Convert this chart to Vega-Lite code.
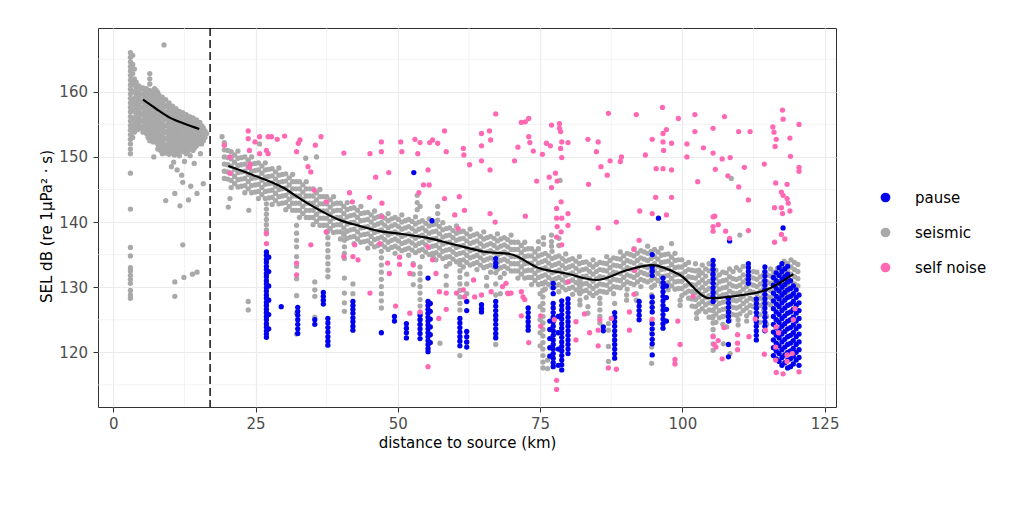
{
  "$schema": "https://vega.github.io/schema/vega-lite/v6.json",
  "width": 738,
  "height": 379,
  "autosize": {"type": "none"},
  "padding": {"left": 98, "top": 28, "right": 188, "bottom": 105},
  "background": "white",
  "config": {"font": "DejaVu Sans", "view": {"stroke": "#333333", "strokeWidth": 1}},
  "datasets": {
    "minorx": [{"d":12.5},{"d":37.5},{"d":62.5},{"d":87.5},{"d":112.5}],
    "minory": [{"s":115},{"s":125},{"s":135},{"s":145},{"s":155},{"s":165}],
    "seismic": [
      {"d":3,"s":166},{"d":3,"s":165.3},{"d":3,"s":164.6},{"d":3,"s":163.9},{"d":3,"s":163.2},{"d":3,"s":162.5},{"d":3,"s":161.8},{"d":3,"s":161.1},{"d":3,"s":160.4},{"d":3,"s":159.7},{"d":3,"s":159},{"d":3,"s":158.3},{"d":3,"s":157.6},{"d":3,"s":156.9},{"d":3,"s":156.2},{"d":3,"s":155.5},{"d":3,"s":154.8},{"d":3,"s":154.1},{"d":3,"s":153.4},{"d":3,"s":152.7},{"d":3,"s":152},{"d":3,"s":151.2},{"d":3,"s":150.5},{"d":3,"s":147.5},{"d":3,"s":142},{"d":3,"s":136.1},{"d":3,"s":134.8},{"d":3,"s":133},{"d":3,"s":132.5},{"d":3,"s":131.8},{"d":3,"s":131.2},{"d":3,"s":130.6},{"d":3,"s":129.5},{"d":3,"s":128.8},{"d":3,"s":128.3},
      {"d":3.4,"s":165.6},{"d":3.4,"s":164.2},{"d":3.4,"s":162.8},{"d":3.4,"s":161.4},{"d":3.4,"s":160},{"d":3.4,"s":158.6},{"d":3.4,"s":157.2},{"d":3.4,"s":155.8},{"d":3.4,"s":154.4},{"d":3.4,"s":153},
      {"d":3.7,"s":163.5},{"d":3.7,"s":162},{"d":3.7,"s":161},{"d":3.7,"s":160},{"d":3.7,"s":159},{"d":3.7,"s":158},{"d":3.7,"s":157},{"d":3.7,"s":156},{"d":3.7,"s":155},{"d":3.7,"s":153.8},
      {"d":4,"s":161.5},{"d":4,"s":160.5},{"d":4,"s":159.5},{"d":4,"s":158.5},{"d":4,"s":157.5},{"d":4,"s":156.5},{"d":4,"s":155.5},{"d":4,"s":154.6},
      {"d":4.3,"s":161},{"d":4.3,"s":160},{"d":4.3,"s":159},{"d":4.3,"s":158},{"d":4.3,"s":157},{"d":4.3,"s":156},{"d":4.3,"s":155.2},{"d":4.3,"s":154.2},
      {"d":4.6,"s":160.8},{"d":4.6,"s":159.8},{"d":4.6,"s":158.8},{"d":4.6,"s":157.8},{"d":4.6,"s":156.8},{"d":4.6,"s":155.8},{"d":4.6,"s":154.8},
      {"d":4.9,"s":160.5},{"d":4.9,"s":159.5},{"d":4.9,"s":158.5},{"d":4.9,"s":157.5},{"d":4.9,"s":156.5},{"d":4.9,"s":155.5},{"d":4.9,"s":154.4},
      {"d":5.2,"s":160.6},{"d":5.2,"s":159.6},{"d":5.2,"s":158.6},{"d":5.2,"s":157.6},{"d":5.2,"s":156.6},{"d":5.2,"s":155.6},{"d":5.2,"s":154.6},{"d":5.2,"s":153.8},
      {"d":5.5,"s":160.2},{"d":5.5,"s":159.2},{"d":5.5,"s":158.2},{"d":5.5,"s":157.2},{"d":5.5,"s":156.2},{"d":5.5,"s":155.2},{"d":5.5,"s":154.2},
      {"d":5.8,"s":160.5},{"d":5.8,"s":159.5},{"d":5.8,"s":158.5},{"d":5.8,"s":157.5},{"d":5.8,"s":156.5},{"d":5.8,"s":155.5},{"d":5.8,"s":154.5},{"d":5.8,"s":153.6},
      {"d":6.1,"s":160},{"d":6.1,"s":159},{"d":6.1,"s":158},{"d":6.1,"s":157},{"d":6.1,"s":156},{"d":6.1,"s":155},{"d":6.1,"s":154},{"d":6.1,"s":153},
      {"d":6.4,"s":162.8},{"d":6.4,"s":162},{"d":6.4,"s":161.2},{"d":6.4,"s":160.2},{"d":6.4,"s":159.2},{"d":6.4,"s":158.2},{"d":6.4,"s":157.2},{"d":6.4,"s":156.2},{"d":6.4,"s":155.2},{"d":6.4,"s":154.2},{"d":6.4,"s":153.2},{"d":6.4,"s":152.5},
      {"d":6.7,"s":159.7},{"d":6.7,"s":158.7},{"d":6.7,"s":157.7},{"d":6.7,"s":156.7},{"d":6.7,"s":155.7},{"d":6.7,"s":154.7},{"d":6.7,"s":153.7},{"d":6.7,"s":152.8},
      {"d":7,"s":160},{"d":7,"s":159},{"d":7,"s":158},{"d":7,"s":157},{"d":7,"s":156},{"d":7,"s":155},{"d":7,"s":154.2},{"d":7,"s":153.2},{"d":7,"s":152.3},
      {"d":7.25,"s":160.5},{"d":7.25,"s":159.5},{"d":7.25,"s":158.5},{"d":7.25,"s":157.5},{"d":7.25,"s":156.5},{"d":7.25,"s":155.5},{"d":7.25,"s":154.6},{"d":7.25,"s":153.6},{"d":7.25,"s":152.7},
      {"d":7.5,"s":160.2},{"d":7.5,"s":159.3},{"d":7.5,"s":158.3},{"d":7.5,"s":157.3},{"d":7.5,"s":156.3},{"d":7.5,"s":155.3},{"d":7.5,"s":154.3},{"d":7.5,"s":153.3},{"d":7.5,"s":152.3},
      {"d":7.8,"s":159.9},{"d":7.8,"s":158.9},{"d":7.8,"s":157.9},{"d":7.8,"s":156.9},{"d":7.8,"s":155.9},{"d":7.8,"s":154.9},{"d":7.8,"s":154},{"d":7.8,"s":153},{"d":7.8,"s":152},{"d":7.8,"s":151.2},
      {"d":8,"s":159.5},{"d":8,"s":158.5},{"d":8,"s":157.5},{"d":8,"s":156.5},{"d":8,"s":155.5},{"d":8,"s":154.5},{"d":8,"s":153.5},{"d":8,"s":152.5},{"d":8,"s":151.6},
      {"d":8.3,"s":159},{"d":8.3,"s":158},{"d":8.3,"s":157},{"d":8.3,"s":156},{"d":8.3,"s":155},{"d":8.3,"s":154},{"d":8.3,"s":153},{"d":8.3,"s":152},{"d":8.3,"s":151},
      {"d":8.6,"s":159.2},{"d":8.6,"s":158.2},{"d":8.6,"s":157.2},{"d":8.6,"s":156.2},{"d":8.6,"s":155.2},{"d":8.6,"s":154.2},{"d":8.6,"s":153.2},{"d":8.6,"s":152.2},{"d":8.6,"s":151.3},{"d":8.6,"s":150.5},
      {"d":8.9,"s":158.7},{"d":8.9,"s":157.7},{"d":8.9,"s":156.7},{"d":8.9,"s":155.7},{"d":8.9,"s":154.7},{"d":8.9,"s":153.7},{"d":8.9,"s":152.7},{"d":8.9,"s":151.8},{"d":8.9,"s":150.9},
      {"d":9.2,"s":158.8},{"d":9.2,"s":157.8},{"d":9.2,"s":156.8},{"d":9.2,"s":155.8},{"d":9.2,"s":154.8},{"d":9.2,"s":153.8},{"d":9.2,"s":152.8},{"d":9.2,"s":151.5},{"d":9.2,"s":150.6},
      {"d":9.5,"s":158},{"d":9.5,"s":157},{"d":9.5,"s":156},{"d":9.5,"s":155},{"d":9.5,"s":154},{"d":9.5,"s":153},{"d":9.5,"s":152},{"d":9.5,"s":151},
      {"d":9.8,"s":158.3},{"d":9.8,"s":157.3},{"d":9.8,"s":156.3},{"d":9.8,"s":155.3},{"d":9.8,"s":154.3},{"d":9.8,"s":153.3},{"d":9.8,"s":152.3},{"d":9.8,"s":151.2},{"d":9.8,"s":150.4},
      {"d":10.1,"s":157.6},{"d":10.1,"s":156.6},{"d":10.1,"s":155.6},{"d":10.1,"s":154.6},{"d":10.1,"s":153.6},{"d":10.1,"s":152.6},{"d":10.1,"s":151.6},{"d":10.1,"s":150.6},
      {"d":10.4,"s":157.8},{"d":10.4,"s":156.8},{"d":10.4,"s":155.8},{"d":10.4,"s":154.8},{"d":10.4,"s":153.8},{"d":10.4,"s":152.8},{"d":10.4,"s":151.8},{"d":10.4,"s":150.8},
      {"d":10.7,"s":157.1},{"d":10.7,"s":156.1},{"d":10.7,"s":155.1},{"d":10.7,"s":154.1},{"d":10.7,"s":153.1},{"d":10.7,"s":152.1},{"d":10.7,"s":151.1},{"d":10.7,"s":150.3},
      {"d":11,"s":157.4},{"d":11,"s":156.4},{"d":11,"s":155.4},{"d":11,"s":154.4},{"d":11,"s":153.4},{"d":11,"s":152.4},{"d":11,"s":151.4},{"d":11,"s":150.5},
      {"d":11.3,"s":156.7},{"d":11.3,"s":155.7},{"d":11.3,"s":154.7},{"d":11.3,"s":153.7},{"d":11.3,"s":152.7},{"d":11.3,"s":151.7},{"d":11.3,"s":150.8},
      {"d":11.6,"s":157},{"d":11.6,"s":156},{"d":11.6,"s":155},{"d":11.6,"s":154},{"d":11.6,"s":153},{"d":11.6,"s":152},{"d":11.6,"s":151},{"d":11.6,"s":150.2},
      {"d":11.9,"s":156.4},{"d":11.9,"s":155.4},{"d":11.9,"s":154.4},{"d":11.9,"s":153.4},{"d":11.9,"s":152.4},{"d":11.9,"s":151.4},
      {"d":12.2,"s":156.8},{"d":12.2,"s":155.8},{"d":12.2,"s":154.8},{"d":12.2,"s":153.8},{"d":12.2,"s":152.8},{"d":12.2,"s":151.8},{"d":12.2,"s":150.8},
      {"d":12.5,"s":156},{"d":12.5,"s":155},{"d":12.5,"s":154},{"d":12.5,"s":153},{"d":12.5,"s":152},{"d":12.5,"s":151},
      {"d":12.8,"s":156.5},{"d":12.8,"s":155.5},{"d":12.8,"s":154.5},{"d":12.8,"s":153.5},{"d":12.8,"s":152.5},{"d":12.8,"s":151.5},{"d":12.8,"s":150.5},
      {"d":13.1,"s":155.8},{"d":13.1,"s":154.8},{"d":13.1,"s":153.8},{"d":13.1,"s":152.8},{"d":13.1,"s":151.8},{"d":13.1,"s":150.9},
      {"d":13.4,"s":156.2},{"d":13.4,"s":155.2},{"d":13.4,"s":154.2},{"d":13.4,"s":153.2},{"d":13.4,"s":152.2},{"d":13.4,"s":151.2},
      {"d":13.7,"s":155.6},{"d":13.7,"s":154.6},{"d":13.7,"s":153.6},{"d":13.7,"s":152.6},{"d":13.7,"s":151.6},
      {"d":14,"s":156},{"d":14,"s":155},{"d":14,"s":154},{"d":14,"s":153},{"d":14,"s":152},{"d":14,"s":151},
      {"d":14.3,"s":155.3},{"d":14.3,"s":154.3},{"d":14.3,"s":153.3},{"d":14.3,"s":152.3},{"d":14.3,"s":151.4},
      {"d":14.6,"s":155.7},{"d":14.6,"s":154.7},{"d":14.6,"s":153.7},{"d":14.6,"s":152.7},{"d":14.6,"s":151.7},
      {"d":14.9,"s":155},{"d":14.9,"s":154},{"d":14.9,"s":153},{"d":14.9,"s":152},
      {"d":15.2,"s":155.3},{"d":15.2,"s":154.3},{"d":15.2,"s":153.3},{"d":15.2,"s":152.3},
      {"d":15.5,"s":154.8},{"d":15.5,"s":153.8},{"d":15.5,"s":152.8},{"d":15.5,"s":152},
      {"d":15.8,"s":154.5},{"d":15.8,"s":153.5},{"d":15.8,"s":152.5},{"d":16.1,"s":154},{"d":16.1,"s":153},{"d":16.4,"s":153.6},
      {"d":8.9,"s":167.2},{"d":7.1,"s":150},{"d":9.2,"s":143.3},{"d":10.8,"s":144.4},{"d":11.7,"s":142.5},{"d":12.2,"s":146.1},{"d":13.2,"s":143.4},{"d":13.6,"s":145.5},{"d":14.7,"s":144.4},{"d":15.8,"s":145.9},{"d":12.2,"s":136.5},{"d":10.8,"s":130.8},{"d":10.8,"s":128.6},{"d":12.4,"s":131.5},{"d":13.9,"s":132},{"d":14.7,"s":132.3},{"d":10.2,"s":148.5},{"d":10.6,"s":149.2},{"d":11.2,"s":148},{"d":12,"s":147.2},{"d":12.5,"s":149.3},{"d":13.5,"s":150.2},{"d":14.2,"s":149},{"d":15.3,"s":150.5},
      {"d":19.5,"s":152.2},{"d":19.5,"s":151.1},{"d":19.5,"s":150},{"d":19.5,"s":148.9},{"d":19.5,"s":147.8},{"d":19.5,"s":146.7},
      {"d":20.7,"s":150.8},{"d":20.7,"s":149.7},{"d":20.7,"s":148.6},{"d":20.7,"s":147.5},{"d":20.7,"s":146.4},{"d":20.7,"s":145.3},
      {"d":21.9,"s":150.9},{"d":21.9,"s":149.8},{"d":21.9,"s":148.7},{"d":21.9,"s":147.6},{"d":21.9,"s":146.5},{"d":21.9,"s":145.4},
      {"d":23.1,"s":150},{"d":23.1,"s":148.9},{"d":23.1,"s":147.8},{"d":23.1,"s":146.7},{"d":23.1,"s":145.6},{"d":23.1,"s":144.5},
      {"d":24.3,"s":150},{"d":24.3,"s":148.9},{"d":24.3,"s":147.8},{"d":24.3,"s":146.7},{"d":24.3,"s":145.6},{"d":24.3,"s":144.5},
      {"d":25.5,"s":149.1},{"d":25.5,"s":148},{"d":25.5,"s":146.9},{"d":25.5,"s":145.8},{"d":25.5,"s":144.7},{"d":25.5,"s":143.6},
      {"d":26.7,"s":149.1},{"d":26.7,"s":148},{"d":26.7,"s":146.9},{"d":26.7,"s":145.8},{"d":26.7,"s":144.7},{"d":26.7,"s":143.6},
      {"d":27.9,"s":148.2},{"d":27.9,"s":147.1},{"d":27.9,"s":146},{"d":27.9,"s":144.9},{"d":27.9,"s":143.8},{"d":27.9,"s":142.7},
      {"d":29.1,"s":148.3},{"d":29.1,"s":147.2},{"d":29.1,"s":146.1},{"d":29.1,"s":145},{"d":29.1,"s":143.9},{"d":29.1,"s":142.8},
      {"d":30.3,"s":147.4},{"d":30.3,"s":146.3},{"d":30.3,"s":145.2},{"d":30.3,"s":144.1},{"d":30.3,"s":143},{"d":30.3,"s":141.9},
      {"d":31.5,"s":147.3},{"d":31.5,"s":146.2},{"d":31.5,"s":145.1},{"d":31.5,"s":144},{"d":31.5,"s":142.9},{"d":31.5,"s":141.8},
      {"d":32.7,"s":146.2},{"d":32.7,"s":145.1},{"d":32.7,"s":144},{"d":32.7,"s":142.9},{"d":32.7,"s":141.8},{"d":32.7,"s":140.7},
      {"d":33.9,"s":146.2},{"d":33.9,"s":145.1},{"d":33.9,"s":144},{"d":33.9,"s":142.9},{"d":33.9,"s":141.8},{"d":33.9,"s":140.7},
      {"d":35.1,"s":145.1},{"d":35.1,"s":144},{"d":35.1,"s":142.9},{"d":35.1,"s":141.8},{"d":35.1,"s":140.7},{"d":35.1,"s":139.6},
      {"d":36.3,"s":145},{"d":36.3,"s":143.9},{"d":36.3,"s":142.8},{"d":36.3,"s":141.7},{"d":36.3,"s":140.6},{"d":36.3,"s":139.5},
      {"d":37.5,"s":143.9},{"d":37.5,"s":142.8},{"d":37.5,"s":141.7},{"d":37.5,"s":140.6},{"d":37.5,"s":139.5},{"d":37.5,"s":138.4},
      {"d":38.7,"s":143.9},{"d":38.7,"s":142.8},{"d":38.7,"s":141.7},{"d":38.7,"s":140.6},{"d":38.7,"s":139.5},{"d":38.7,"s":138.4},
      {"d":39.9,"s":142.9},{"d":39.9,"s":141.8},{"d":39.9,"s":140.7},{"d":39.9,"s":139.6},{"d":39.9,"s":138.5},{"d":39.9,"s":137.4},
      {"d":41.1,"s":143},{"d":41.1,"s":141.9},{"d":41.1,"s":140.8},{"d":41.1,"s":139.7},{"d":41.1,"s":138.6},{"d":41.1,"s":137.5},
      {"d":42.3,"s":142.2},{"d":42.3,"s":141.1},{"d":42.3,"s":140},{"d":42.3,"s":138.9},{"d":42.3,"s":137.8},{"d":42.3,"s":136.7},
      {"d":43.5,"s":142.4},{"d":43.5,"s":141.3},{"d":43.5,"s":140.2},{"d":43.5,"s":139.1},{"d":43.5,"s":138},{"d":43.5,"s":136.9},
      {"d":44.7,"s":141.5},{"d":44.7,"s":140.4},{"d":44.7,"s":139.3},{"d":44.7,"s":138.2},{"d":44.7,"s":137.1},{"d":44.7,"s":136},
      {"d":45.9,"s":141.7},{"d":45.9,"s":140.6},{"d":45.9,"s":139.5},{"d":45.9,"s":138.4},{"d":45.9,"s":137.3},{"d":45.9,"s":136.2},
      {"d":47.1,"s":141},{"d":47.1,"s":139.9},{"d":47.1,"s":138.8},{"d":47.1,"s":137.7},{"d":47.1,"s":136.6},{"d":47.1,"s":135.5},
      {"d":48.3,"s":141.3},{"d":48.3,"s":140.2},{"d":48.3,"s":139.1},{"d":48.3,"s":138},{"d":48.3,"s":136.9},{"d":48.3,"s":135.8},
      {"d":49.5,"s":140.7},{"d":49.5,"s":139.6},{"d":49.5,"s":138.5},{"d":49.5,"s":137.4},{"d":49.5,"s":136.3},{"d":49.5,"s":135.2},
      {"d":50.7,"s":141.1},{"d":50.7,"s":140},{"d":50.7,"s":138.9},{"d":50.7,"s":137.8},{"d":50.7,"s":136.7},{"d":50.7,"s":135.6},
      {"d":51.9,"s":140.4},{"d":51.9,"s":139.3},{"d":51.9,"s":138.2},{"d":51.9,"s":137.1},{"d":51.9,"s":136},{"d":51.9,"s":134.9},
      {"d":53.1,"s":140.8},{"d":53.1,"s":139.7},{"d":53.1,"s":138.6},{"d":53.1,"s":137.5},{"d":53.1,"s":136.4},{"d":53.1,"s":135.3},
      {"d":53.4,"s":144.1},{"d":53.4,"s":143},{"d":53.4,"s":141.9},
      {"d":54.3,"s":140.2},{"d":54.3,"s":139.1},{"d":54.3,"s":138},{"d":54.3,"s":136.9},{"d":54.3,"s":135.8},{"d":54.3,"s":134.7},
      {"d":55.5,"s":140.5},{"d":55.5,"s":139.4},{"d":55.5,"s":138.3},{"d":55.5,"s":137.2},{"d":55.5,"s":136.1},{"d":55.5,"s":135},
      {"d":56.7,"s":139.7},{"d":56.7,"s":138.6},{"d":56.7,"s":137.5},{"d":56.7,"s":136.4},{"d":56.7,"s":135.3},{"d":56.7,"s":134.2},
      {"d":57,"s":142.4},{"d":57,"s":141.3},{"d":57,"s":140.3},
      {"d":57.9,"s":139.9},{"d":57.9,"s":138.8},{"d":57.9,"s":137.7},{"d":57.9,"s":136.6},{"d":57.9,"s":135.5},{"d":57.9,"s":134.4},
      {"d":59.1,"s":139.1},{"d":59.1,"s":138},{"d":59.1,"s":136.9},{"d":59.1,"s":135.8},{"d":59.1,"s":134.7},{"d":59.1,"s":133.6},
      {"d":60.3,"s":139.4},{"d":60.3,"s":138.3},{"d":60.3,"s":137.2},{"d":60.3,"s":136.1},{"d":60.3,"s":135},{"d":60.3,"s":133.9},
      {"d":61.5,"s":138.6},{"d":61.5,"s":137.5},{"d":61.5,"s":136.4},{"d":61.5,"s":135.3},{"d":61.5,"s":134.2},{"d":61.5,"s":133.1},
      {"d":62.7,"s":138.9},{"d":62.7,"s":137.8},{"d":62.7,"s":136.7},{"d":62.7,"s":135.6},{"d":62.7,"s":134.5},{"d":62.7,"s":133.4},
      {"d":63.9,"s":138.2},{"d":63.9,"s":137.1},{"d":63.9,"s":136},{"d":63.9,"s":134.9},{"d":63.9,"s":133.8},{"d":63.9,"s":132.7},
      {"d":65.1,"s":138.5},{"d":65.1,"s":137.4},{"d":65.1,"s":136.3},{"d":65.1,"s":135.2},{"d":65.1,"s":134.1},{"d":65.1,"s":133},
      {"d":66.3,"s":137.8},{"d":66.3,"s":136.7},{"d":66.3,"s":135.6},{"d":66.3,"s":134.5},{"d":66.3,"s":133.4},{"d":66.3,"s":132.3},
      {"d":67.5,"s":138.2},{"d":67.5,"s":137.1},{"d":67.5,"s":136},{"d":67.5,"s":134.9},{"d":67.5,"s":133.8},{"d":67.5,"s":132.7},
      {"d":68.7,"s":137.6},{"d":68.7,"s":136.5},{"d":68.7,"s":135.4},{"d":68.7,"s":134.3},{"d":68.7,"s":133.2},{"d":68.7,"s":132.1},
      {"d":69.9,"s":138},{"d":69.9,"s":136.9},{"d":69.9,"s":135.8},{"d":69.9,"s":134.7},{"d":69.9,"s":133.6},{"d":69.9,"s":132.5},
      {"d":71.1,"s":136.9},{"d":71.1,"s":135.8},{"d":71.1,"s":134.7},{"d":71.1,"s":133.6},{"d":71.1,"s":132.5},{"d":71.1,"s":131.4},
      {"d":72.3,"s":136.9},{"d":72.3,"s":135.8},{"d":72.3,"s":134.7},{"d":72.3,"s":133.6},{"d":72.3,"s":132.5},{"d":72.3,"s":131.4},
      {"d":73.5,"s":135.9},{"d":73.5,"s":134.8},{"d":73.5,"s":133.7},{"d":73.5,"s":132.6},{"d":73.5,"s":131.5},{"d":73.5,"s":130.4},
      {"d":74.7,"s":137},{"d":74.7,"s":135.9},{"d":74.7,"s":134.8},{"d":74.7,"s":133.7},{"d":74.7,"s":132.6},{"d":74.7,"s":131.5},{"d":74.7,"s":130.4},
      {"d":75.6,"s":137.6},{"d":75.6,"s":136.6},
      {"d":75.9,"s":135.2},{"d":75.9,"s":134.1},{"d":75.9,"s":133},{"d":75.9,"s":131.9},{"d":75.9,"s":130.8},{"d":75.9,"s":129.7},
      {"d":77,"s":138},{"d":77,"s":137},{"d":77,"s":136.3},
      {"d":77.1,"s":135.5},{"d":77.1,"s":134.4},{"d":77.1,"s":133.3},{"d":77.1,"s":132.2},{"d":77.1,"s":131.1},{"d":77.1,"s":130},
      {"d":78.3,"s":137.5},{"d":78.3,"s":136.4},{"d":78.3,"s":134.8},{"d":78.3,"s":133.7},{"d":78.3,"s":132.6},{"d":78.3,"s":131.5},{"d":78.3,"s":130.4},{"d":78.3,"s":129.3},
      {"d":79.5,"s":135.1},{"d":79.5,"s":134},{"d":79.5,"s":132.9},{"d":79.5,"s":131.8},{"d":79.5,"s":130.7},{"d":79.5,"s":129.6},
      {"d":80.7,"s":134.4},{"d":80.7,"s":133.3},{"d":80.7,"s":132.2},{"d":80.7,"s":131.1},{"d":80.7,"s":130},{"d":80.7,"s":128.9},
      {"d":81.9,"s":134.7},{"d":81.9,"s":133.6},{"d":81.9,"s":132.5},{"d":81.9,"s":131.4},{"d":81.9,"s":130.3},{"d":81.9,"s":129.2},
      {"d":83.1,"s":133.9},{"d":83.1,"s":132.8},{"d":83.1,"s":131.7},{"d":83.1,"s":130.6},{"d":83.1,"s":129.5},{"d":83.1,"s":128.4},
      {"d":84.3,"s":134.2},{"d":84.3,"s":133.1},{"d":84.3,"s":132},{"d":84.3,"s":130.9},{"d":84.3,"s":129.8},{"d":84.3,"s":128.7},
      {"d":85.5,"s":133.8},{"d":85.5,"s":132.7},{"d":85.5,"s":131.6},{"d":85.5,"s":130.5},{"d":85.5,"s":129.4},{"d":85.5,"s":128.3},
      {"d":86.7,"s":134.7},{"d":86.7,"s":133.6},{"d":86.7,"s":132.5},{"d":86.7,"s":131.4},{"d":86.7,"s":130.3},{"d":86.7,"s":129.2},
      {"d":87.9,"s":134.5},{"d":87.9,"s":133.4},{"d":87.9,"s":132.3},{"d":87.9,"s":131.2},{"d":87.9,"s":130.1},{"d":87.9,"s":129},
      {"d":89.1,"s":135.4},{"d":89.1,"s":134.3},{"d":89.1,"s":133.2},{"d":89.1,"s":132.1},{"d":89.1,"s":131},{"d":89.1,"s":129.9},
      {"d":90.3,"s":135.2},{"d":90.3,"s":134.1},{"d":90.3,"s":133},{"d":90.3,"s":131.9},{"d":90.3,"s":130.8},{"d":90.3,"s":129.7},
      {"d":91.5,"s":135.9},{"d":91.5,"s":134.8},{"d":91.5,"s":133.7},{"d":91.5,"s":132.6},{"d":91.5,"s":131.5},{"d":91.5,"s":130.4},
      {"d":92.7,"s":135.6},{"d":92.7,"s":134.5},{"d":92.7,"s":133.4},{"d":92.7,"s":132.3},{"d":92.7,"s":131.2},{"d":92.7,"s":130.1},
      {"d":93.9,"s":136.3},{"d":93.9,"s":135.2},{"d":93.9,"s":134.1},{"d":93.9,"s":133},{"d":93.9,"s":131.9},{"d":93.9,"s":130.8},
      {"d":95.1,"s":135.8},{"d":95.1,"s":134.7},{"d":95.1,"s":133.6},{"d":95.1,"s":132.5},{"d":95.1,"s":131.4},{"d":95.1,"s":130.3},
      {"d":96.3,"s":136},{"d":96.3,"s":134.9},{"d":96.3,"s":133.8},{"d":96.3,"s":132.7},{"d":96.3,"s":131.6},{"d":96.3,"s":130.5},
      {"d":97.5,"s":135.1},{"d":97.5,"s":134},{"d":97.5,"s":132.9},{"d":97.5,"s":131.8},{"d":97.5,"s":130.7},{"d":97.5,"s":129.6},
      {"d":98.1,"s":136.7},
      {"d":98.7,"s":135.2},{"d":98.7,"s":134.1},{"d":98.7,"s":133},{"d":98.7,"s":131.9},{"d":98.7,"s":130.8},{"d":98.7,"s":129.7},
      {"d":99.9,"s":134.2},{"d":99.9,"s":133.1},{"d":99.9,"s":132},{"d":99.9,"s":130.9},{"d":99.9,"s":129.8},{"d":99.9,"s":128.7},
      {"d":101.1,"s":133.8},{"d":101.1,"s":132.7},{"d":101.1,"s":131.6},{"d":101.1,"s":130.5},{"d":101.1,"s":129.4},{"d":101.1,"s":128.3},
      {"d":102.3,"s":133.6},{"d":102.3,"s":132.5},{"d":102.3,"s":131.4},{"d":102.3,"s":130.3},{"d":102.3,"s":129.2},{"d":102.3,"s":128.1},{"d":102.3,"s":127},
      {"d":103.5,"s":133.4},{"d":103.5,"s":132.2},{"d":103.5,"s":131.1},{"d":103.5,"s":130},{"d":103.5,"s":128.9},{"d":103.5,"s":127.8},{"d":103.5,"s":126.7},
      {"d":104.7,"s":133.6},{"d":104.7,"s":132.5},{"d":104.7,"s":130.9},{"d":104.7,"s":129.8},{"d":104.7,"s":128.7},{"d":104.7,"s":127.6},{"d":104.7,"s":126.5},{"d":104.7,"s":125.4},
      {"d":105.9,"s":132.6},{"d":105.9,"s":131.4},{"d":105.9,"s":130.3},{"d":105.9,"s":129.2},{"d":105.9,"s":128.1},{"d":105.9,"s":127},{"d":105.9,"s":125.9},{"d":105.9,"s":124.6},
      {"d":107.1,"s":132.3},{"d":107.1,"s":131},{"d":107.1,"s":129.9},{"d":107.1,"s":128.8},{"d":107.1,"s":127.7},{"d":107.1,"s":126.6},{"d":107.1,"s":125.5},{"d":107.1,"s":124.3},
      {"d":108.3,"s":132.8},{"d":108.3,"s":131.6},{"d":108.3,"s":130.5},{"d":108.3,"s":129.4},{"d":108.3,"s":128.3},{"d":108.3,"s":127.2},{"d":108.3,"s":126.1},{"d":108.3,"s":124.9},
      {"d":109.5,"s":133},{"d":109.5,"s":131.2},{"d":109.5,"s":130.1},{"d":109.5,"s":129},{"d":109.5,"s":127.9},{"d":109.5,"s":126.8},{"d":109.5,"s":125.7},
      {"d":110.7,"s":133.2},{"d":110.7,"s":131.9},{"d":110.7,"s":130.8},{"d":110.7,"s":129.7},{"d":110.7,"s":128.6},{"d":110.7,"s":127.5},{"d":110.7,"s":126.4},
      {"d":111.9,"s":131.6},{"d":111.9,"s":130.5},{"d":111.9,"s":129.4},{"d":111.9,"s":128.3},{"d":111.9,"s":127.2},{"d":111.9,"s":126.1},
      {"d":113.1,"s":132.3},{"d":113.1,"s":131.2},{"d":113.1,"s":130.1},{"d":113.1,"s":129},{"d":113.1,"s":127.9},{"d":113.1,"s":126.8},
      {"d":114.3,"s":132},{"d":114.3,"s":130.9},{"d":114.3,"s":129.8},{"d":114.3,"s":128.7},{"d":114.3,"s":127.6},{"d":114.3,"s":126.5},
      {"d":115.5,"s":132.8},{"d":115.5,"s":131.7},{"d":115.5,"s":130.6},{"d":115.5,"s":129.5},{"d":115.5,"s":128.4},{"d":115.5,"s":127.3},
      {"d":116.7,"s":132.9},{"d":116.7,"s":131.8},{"d":116.7,"s":130.7},{"d":116.7,"s":129.6},{"d":116.7,"s":128.5},{"d":116.7,"s":127.4},
      {"d":117.9,"s":134},{"d":117.9,"s":132.9},{"d":117.9,"s":131.8},{"d":117.9,"s":130.7},{"d":117.9,"s":129.6},{"d":117.9,"s":128.5},
      {"d":119.1,"s":134.2},{"d":119.1,"s":133.1},{"d":119.1,"s":132},{"d":119.1,"s":130.9},{"d":119.1,"s":129.8},{"d":119.1,"s":128.7},
      {"d":120.3,"s":133.5},{"d":120.3,"s":132.4},{"d":120.3,"s":131.3},{"d":120.3,"s":130.2},
      {"d":20.1,"s":151},{"d":20.1,"s":149.9},{"d":20.1,"s":148.8},{"d":20.1,"s":147.7},{"d":20.1,"s":146.6},
      {"d":21.3,"s":150.3},{"d":21.3,"s":149.2},{"d":21.3,"s":148.1},{"d":21.3,"s":147},{"d":21.3,"s":145.9},
      {"d":22.5,"s":149.9},{"d":22.5,"s":148.8},{"d":22.5,"s":147.7},{"d":22.5,"s":146.6},{"d":22.5,"s":145.5},
      {"d":23.7,"s":149.5},{"d":23.7,"s":148.4},{"d":23.7,"s":147.3},{"d":23.7,"s":146.2},{"d":23.7,"s":145.1},
      {"d":24.9,"s":149},{"d":24.9,"s":147.9},{"d":24.9,"s":146.8},{"d":24.9,"s":145.7},{"d":24.9,"s":144.6},
      {"d":26.1,"s":148.6},{"d":26.1,"s":147.5},{"d":26.1,"s":146.4},{"d":26.1,"s":145.3},{"d":26.1,"s":144.2},
      {"d":27.3,"s":148.1},{"d":27.3,"s":147},{"d":27.3,"s":145.9},{"d":27.3,"s":144.8},{"d":27.3,"s":143.7},
      {"d":28.5,"s":147.7},{"d":28.5,"s":146.6},{"d":28.5,"s":145.5},{"d":28.5,"s":144.4},{"d":28.5,"s":143.3},
      {"d":29.7,"s":147.3},{"d":29.7,"s":146.2},{"d":29.7,"s":145.1},{"d":29.7,"s":144},{"d":29.7,"s":142.9},
      {"d":30.9,"s":146.8},{"d":30.9,"s":145.7},{"d":30.9,"s":144.6},{"d":30.9,"s":143.5},{"d":30.9,"s":142.4},
      {"d":32.1,"s":146.2},{"d":32.1,"s":145.1},{"d":32.1,"s":144},{"d":32.1,"s":142.9},{"d":32.1,"s":141.8},
      {"d":33.3,"s":145.7},{"d":33.3,"s":144.6},{"d":33.3,"s":143.5},{"d":33.3,"s":142.4},{"d":33.3,"s":141.3},
      {"d":34.5,"s":145.1},{"d":34.5,"s":144},{"d":34.5,"s":142.9},{"d":34.5,"s":141.8},{"d":34.5,"s":140.7},
      {"d":35.7,"s":144.5},{"d":35.7,"s":143.4},{"d":35.7,"s":142.3},{"d":35.7,"s":141.2},{"d":35.7,"s":140.1},
      {"d":36.9,"s":143.9},{"d":36.9,"s":142.8},{"d":36.9,"s":141.7},{"d":36.9,"s":140.6},{"d":36.9,"s":139.5},
      {"d":38.1,"s":143.4},{"d":38.1,"s":142.3},{"d":38.1,"s":141.2},{"d":38.1,"s":140.1},{"d":38.1,"s":139},
      {"d":39.3,"s":142.9},{"d":39.3,"s":141.8},{"d":39.3,"s":140.7},{"d":39.3,"s":139.6},{"d":39.3,"s":138.5},
      {"d":40.5,"s":142.4},{"d":40.5,"s":141.3},{"d":40.5,"s":140.2},{"d":40.5,"s":139.1},{"d":40.5,"s":138},
      {"d":41.7,"s":142.1},{"d":41.7,"s":141},{"d":41.7,"s":139.9},{"d":41.7,"s":138.8},{"d":41.7,"s":137.7},
      {"d":42.9,"s":141.8},{"d":42.9,"s":140.7},{"d":42.9,"s":139.6},{"d":42.9,"s":138.5},{"d":42.9,"s":137.4},
      {"d":44.1,"s":141.4},{"d":44.1,"s":140.3},{"d":44.1,"s":139.2},{"d":44.1,"s":138.1},{"d":44.1,"s":137},
      {"d":45.3,"s":141.1},{"d":45.3,"s":140},{"d":45.3,"s":138.9},{"d":45.3,"s":137.8},{"d":45.3,"s":136.7},
      {"d":46.5,"s":140.8},{"d":46.5,"s":139.7},{"d":46.5,"s":138.6},{"d":46.5,"s":137.5},{"d":46.5,"s":136.4},
      {"d":47.7,"s":140.6},{"d":47.7,"s":139.5},{"d":47.7,"s":138.4},{"d":47.7,"s":137.3},{"d":47.7,"s":136.2},
      {"d":48.9,"s":140.5},{"d":48.9,"s":139.4},{"d":48.9,"s":138.3},{"d":48.9,"s":137.2},{"d":48.9,"s":136.1},
      {"d":50.1,"s":140.4},{"d":50.1,"s":139.3},{"d":50.1,"s":138.2},{"d":50.1,"s":137.1},{"d":50.1,"s":136},
      {"d":51.3,"s":140.2},{"d":51.3,"s":139.1},{"d":51.3,"s":138},{"d":51.3,"s":136.9},{"d":51.3,"s":135.8},
      {"d":52.5,"s":140.1},{"d":52.5,"s":139},{"d":52.5,"s":137.9},{"d":52.5,"s":136.8},{"d":52.5,"s":135.7},
      {"d":53.7,"s":140},{"d":53.7,"s":138.9},{"d":53.7,"s":137.8},{"d":53.7,"s":136.7},{"d":53.7,"s":135.6},
      {"d":54.9,"s":139.8},{"d":54.9,"s":138.7},{"d":54.9,"s":137.6},{"d":54.9,"s":136.5},{"d":54.9,"s":135.4},
      {"d":56.1,"s":139.6},{"d":56.1,"s":138.5},{"d":56.1,"s":137.4},{"d":56.1,"s":136.3},{"d":56.1,"s":135.2},
      {"d":57.3,"s":139.3},{"d":57.3,"s":138.2},{"d":57.3,"s":137.1},{"d":57.3,"s":136},{"d":57.3,"s":134.9},
      {"d":58.5,"s":139},{"d":58.5,"s":137.9},{"d":58.5,"s":136.8},{"d":58.5,"s":135.7},{"d":58.5,"s":134.6},
      {"d":59.7,"s":138.7},{"d":59.7,"s":137.6},{"d":59.7,"s":136.5},{"d":59.7,"s":135.4},{"d":59.7,"s":134.3},
      {"d":60.9,"s":138.5},{"d":60.9,"s":137.4},{"d":60.9,"s":136.3},{"d":60.9,"s":135.2},{"d":60.9,"s":134.1},
      {"d":62.1,"s":138.2},{"d":62.1,"s":137.1},{"d":62.1,"s":136},{"d":62.1,"s":134.9},{"d":62.1,"s":133.8},
      {"d":63.3,"s":138},{"d":63.3,"s":136.9},{"d":63.3,"s":135.8},{"d":63.3,"s":134.7},{"d":63.3,"s":133.6},
      {"d":64.5,"s":137.8},{"d":64.5,"s":136.7},{"d":64.5,"s":135.6},{"d":64.5,"s":134.5},{"d":64.5,"s":133.4},
      {"d":65.7,"s":137.6},{"d":65.7,"s":136.5},{"d":65.7,"s":135.4},{"d":65.7,"s":134.3},{"d":65.7,"s":133.2},
      {"d":66.9,"s":137.5},{"d":66.9,"s":136.4},{"d":66.9,"s":135.3},{"d":66.9,"s":134.2},{"d":66.9,"s":133.1},
      {"d":68.1,"s":137.4},{"d":68.1,"s":136.3},{"d":68.1,"s":135.2},{"d":68.1,"s":134.1},{"d":68.1,"s":133},
      {"d":69.3,"s":137.3},{"d":69.3,"s":136.2},{"d":69.3,"s":135.1},{"d":69.3,"s":134},{"d":69.3,"s":132.9},
      {"d":70.5,"s":136.9},{"d":70.5,"s":135.8},{"d":70.5,"s":134.7},{"d":70.5,"s":133.6},{"d":70.5,"s":132.5},
      {"d":71.7,"s":136.4},{"d":71.7,"s":135.3},{"d":71.7,"s":134.2},{"d":71.7,"s":133.1},{"d":71.7,"s":132},
      {"d":72.9,"s":135.9},{"d":72.9,"s":134.8},{"d":72.9,"s":133.7},{"d":72.9,"s":132.6},{"d":72.9,"s":131.5},
      {"d":74.1,"s":135.4},{"d":74.1,"s":134.3},{"d":74.1,"s":133.2},{"d":74.1,"s":132.1},{"d":74.1,"s":131},
      {"d":75.3,"s":135},{"d":75.3,"s":133.9},{"d":75.3,"s":132.8},{"d":75.3,"s":131.7},{"d":75.3,"s":130.6},
      {"d":76.5,"s":134.8},{"d":76.5,"s":133.7},{"d":76.5,"s":132.6},{"d":76.5,"s":131.5},{"d":76.5,"s":130.4},
      {"d":77.7,"s":134.6},{"d":77.7,"s":133.5},{"d":77.7,"s":132.4},{"d":77.7,"s":131.3},{"d":77.7,"s":130.2},
      {"d":78.9,"s":134.4},{"d":78.9,"s":133.3},{"d":78.9,"s":132.2},{"d":78.9,"s":131.1},{"d":78.9,"s":130},
      {"d":80.1,"s":134.2},{"d":80.1,"s":133.1},{"d":80.1,"s":132},{"d":80.1,"s":130.9},{"d":80.1,"s":129.8},
      {"d":81.3,"s":134},{"d":81.3,"s":132.9},{"d":81.3,"s":131.8},{"d":81.3,"s":130.7},{"d":81.3,"s":129.6},
      {"d":82.5,"s":133.8},{"d":82.5,"s":132.7},{"d":82.5,"s":131.6},{"d":82.5,"s":130.5},{"d":82.5,"s":129.4},
      {"d":83.7,"s":133.5},{"d":83.7,"s":132.4},{"d":83.7,"s":131.3},{"d":83.7,"s":130.2},{"d":83.7,"s":129.1},
      {"d":84.9,"s":133.5},{"d":84.9,"s":132.4},{"d":84.9,"s":131.3},{"d":84.9,"s":130.2},{"d":84.9,"s":129.1},
      {"d":86.1,"s":133.7},{"d":86.1,"s":132.6},{"d":86.1,"s":131.5},{"d":86.1,"s":130.4},{"d":86.1,"s":129.3},
      {"d":87.3,"s":134.1},{"d":87.3,"s":133},{"d":87.3,"s":131.9},{"d":87.3,"s":130.8},{"d":87.3,"s":129.7},
      {"d":88.5,"s":134.4},{"d":88.5,"s":133.3},{"d":88.5,"s":132.2},{"d":88.5,"s":131.1},{"d":88.5,"s":130},
      {"d":89.7,"s":134.8},{"d":89.7,"s":133.7},{"d":89.7,"s":132.6},{"d":89.7,"s":131.5},{"d":89.7,"s":130.4},
      {"d":90.9,"s":135},{"d":90.9,"s":133.9},{"d":90.9,"s":132.8},{"d":90.9,"s":131.7},{"d":90.9,"s":130.6},
      {"d":92.1,"s":135.2},{"d":92.1,"s":134.1},{"d":92.1,"s":133},{"d":92.1,"s":131.9},{"d":92.1,"s":130.8},
      {"d":93.3,"s":135.4},{"d":93.3,"s":134.3},{"d":93.3,"s":133.2},{"d":93.3,"s":132.1},{"d":93.3,"s":131},
      {"d":94.5,"s":135.5},{"d":94.5,"s":134.4},{"d":94.5,"s":133.3},{"d":94.5,"s":132.2},{"d":94.5,"s":131.1},
      {"d":95.7,"s":135.4},{"d":95.7,"s":134.3},{"d":95.7,"s":133.2},{"d":95.7,"s":132.1},{"d":95.7,"s":131},
      {"d":96.9,"s":135},{"d":96.9,"s":133.9},{"d":96.9,"s":132.8},{"d":96.9,"s":131.7},{"d":96.9,"s":130.6},
      {"d":98.1,"s":134.6},{"d":98.1,"s":133.5},{"d":98.1,"s":132.4},{"d":98.1,"s":131.3},{"d":98.1,"s":130.2},
      {"d":99.3,"s":134.2},{"d":99.3,"s":133.1},{"d":99.3,"s":132},{"d":99.3,"s":130.9},{"d":99.3,"s":129.8},
      {"d":100.5,"s":133.5},{"d":100.5,"s":132.4},{"d":100.5,"s":131.3},{"d":100.5,"s":130.2},{"d":100.5,"s":129.1},
      {"d":101.7,"s":132.6},{"d":101.7,"s":131.5},{"d":101.7,"s":130.4},{"d":101.7,"s":129.3},{"d":101.7,"s":128.2},{"d":101.7,"s":127.1},
      {"d":102.9,"s":132.6},{"d":102.9,"s":131.8},{"d":102.9,"s":130.7},{"d":102.9,"s":129.6},{"d":102.9,"s":128.5},{"d":102.9,"s":127.4},{"d":102.9,"s":126.3},
      {"d":104.1,"s":132.8},{"d":104.1,"s":131.7},{"d":104.1,"s":130.6},{"d":104.1,"s":129.5},{"d":104.1,"s":128.4},{"d":104.1,"s":127.3},{"d":104.1,"s":126.2},
      {"d":105.3,"s":133},{"d":105.3,"s":131.9},{"d":105.3,"s":130.8},{"d":105.3,"s":129.7},{"d":105.3,"s":128.6},{"d":105.3,"s":127.5},{"d":105.3,"s":126.4},{"d":105.3,"s":125.3},
      {"d":106.5,"s":131.9},{"d":106.5,"s":130.8},{"d":106.5,"s":129.7},{"d":106.5,"s":128.6},{"d":106.5,"s":127.5},{"d":106.5,"s":126.4},{"d":106.5,"s":125.3},
      {"d":107.7,"s":132.2},{"d":107.7,"s":131.1},{"d":107.7,"s":130},{"d":107.7,"s":128.9},{"d":107.7,"s":127.8},{"d":107.7,"s":126.7},{"d":107.7,"s":125.6},
      {"d":108.9,"s":132.4},{"d":108.9,"s":131.3},{"d":108.9,"s":130.2},{"d":108.9,"s":129.1},{"d":108.9,"s":128},{"d":108.9,"s":126.9},{"d":108.9,"s":125.8},
      {"d":110.1,"s":132.6},{"d":110.1,"s":131.4},{"d":110.1,"s":130.3},{"d":110.1,"s":129.2},{"d":110.1,"s":128.1},{"d":110.1,"s":127},{"d":110.1,"s":125.9},
      {"d":111.3,"s":131.2},{"d":111.3,"s":130.1},{"d":111.3,"s":129},{"d":111.3,"s":127.9},{"d":111.3,"s":126.8},
      {"d":112.5,"s":132.4},{"d":112.5,"s":131.4},{"d":112.5,"s":130.3},{"d":112.5,"s":129.2},{"d":112.5,"s":128.1},{"d":112.5,"s":127},
      {"d":113.7,"s":131.6},{"d":113.7,"s":130.5},{"d":113.7,"s":129.4},{"d":113.7,"s":128.3},{"d":113.7,"s":127.2},
      {"d":114.9,"s":131.9},{"d":114.9,"s":130.8},{"d":114.9,"s":129.7},{"d":114.9,"s":128.6},{"d":114.9,"s":127.5},
      {"d":116.1,"s":132.3},{"d":116.1,"s":131.2},{"d":116.1,"s":130.1},{"d":116.1,"s":129},{"d":116.1,"s":127.9},
      {"d":117.3,"s":132.9},{"d":117.3,"s":131.8},{"d":117.3,"s":130.7},{"d":117.3,"s":129.6},{"d":117.3,"s":128.5},
      {"d":118.5,"s":133.6},{"d":118.5,"s":132.5},{"d":118.5,"s":131.4},{"d":118.5,"s":130.3},{"d":118.5,"s":129.2},
      {"d":119.7,"s":133.8},{"d":119.7,"s":132.7},{"d":119.7,"s":131.6},{"d":119.7,"s":130.5},
      {"d":19.1,"s":153.1},{"d":25.7,"s":152},{"d":35.7,"s":150},{"d":33.8,"s":149.8},{"d":23.8,"s":141.8},{"d":20.5,"s":143.6},{"d":20.2,"s":142.3},{"d":53.9,"s":142.4},{"d":56.2,"s":134.7},
      {"d":26.9,"s":142.8},{"d":26.9,"s":142},{"d":26.9,"s":141.2},{"d":26.9,"s":140.4},{"d":26.9,"s":139.6},{"d":26.9,"s":138.8},{"d":26.9,"s":138.2},{"d":26.9,"s":127},{"d":26.9,"s":126},
      {"d":23.7,"s":127.8},{"d":23.7,"s":126.5},
      {"d":32.2,"s":139.5},{"d":32.2,"s":138.3},{"d":32.2,"s":137.2},{"d":32.2,"s":136.2},{"d":32.2,"s":134.7},{"d":32.2,"s":133.2},{"d":32.2,"s":131.3},{"d":32.2,"s":128.7},{"d":32.2,"s":126},{"d":32.2,"s":122.8},
      {"d":35.4,"s":130.8},{"d":35.4,"s":129.6},{"d":35.4,"s":128.6},{"d":35.4,"s":125.4},
      {"d":37.7,"s":138.6},{"d":37.7,"s":137.6},{"d":37.7,"s":136.6},{"d":37.7,"s":135.6},{"d":37.7,"s":134.6},{"d":37.7,"s":133.6},{"d":37.7,"s":132.6},{"d":37.7,"s":131.6},
      {"d":40.6,"s":138.3},{"d":40.6,"s":137.2},{"d":40.6,"s":136.2},{"d":40.6,"s":135.2},{"d":40.6,"s":134.4},{"d":40.6,"s":131.4},{"d":40.6,"s":129.1},{"d":40.6,"s":127.6},{"d":40.6,"s":126.3},
      {"d":42.1,"s":130.5},{"d":42.1,"s":129},
      {"d":47.1,"s":134.5},{"d":47.1,"s":133.4},{"d":47.1,"s":132.3},{"d":47.1,"s":131.2},{"d":47.1,"s":130.1},{"d":47.1,"s":129},{"d":47.1,"s":127.9},{"d":47.1,"s":126.8},
      {"d":53.9,"s":133.1},{"d":53.9,"s":132.1},{"d":53.9,"s":131.1},{"d":53.9,"s":130.1},{"d":53.9,"s":129.1},{"d":53.9,"s":128.1},{"d":53.9,"s":127.1},{"d":53.9,"s":126.1},{"d":53.9,"s":125.1},{"d":53.9,"s":124.2},
      {"d":52.7,"s":133.6},{"d":52.7,"s":132},{"d":52.7,"s":130.4},
      {"d":60.9,"s":133.5},{"d":60.9,"s":132.5},{"d":60.9,"s":131.5},{"d":60.9,"s":130.5},{"d":60.9,"s":129.5},{"d":60.9,"s":128.5},{"d":60.9,"s":127.5},{"d":60.9,"s":126.5},{"d":60.9,"s":119.5},
      {"d":62.1,"s":132},{"d":62.1,"s":130.5},{"d":62.1,"s":129},{"d":62.1,"s":121.5},
      {"d":57.4,"s":121.4},{"d":58.5,"s":133.2},{"d":58.5,"s":131.7},{"d":58.5,"s":130.3},{"d":65.6,"s":131.5},{"d":65.6,"s":130.2},
      {"d":67.2,"s":132.2},{"d":67.2,"s":130.5},{"d":67.2,"s":128.8},{"d":67.2,"s":125.5},{"d":67.2,"s":122.6},{"d":67.2,"s":121.2},{"d":68,"s":131.5},{"d":68,"s":129},
      {"d":75.5,"s":130.5},{"d":75.5,"s":129.5},{"d":75.5,"s":128.5},{"d":75.5,"s":127.5},{"d":75.5,"s":126.5},{"d":75.5,"s":125.5},{"d":75.5,"s":124.5},{"d":75.5,"s":123.5},{"d":75.5,"s":122.5},{"d":75.5,"s":121.5},{"d":75.5,"s":120.5},{"d":75.5,"s":119.5},{"d":75.5,"s":118.5},{"d":75.5,"s":117.6},
      {"d":75,"s":129},{"d":75,"s":127},{"d":75,"s":125},{"d":75,"s":123},{"d":75,"s":121},{"d":76.3,"s":118.8},{"d":76.3,"s":117.5},{"d":77.9,"s":123},
      {"d":82,"s":131},{"d":82,"s":130},{"d":82,"s":129},{"d":82,"s":128},{"d":82,"s":127.3},{"d":83.4,"s":127},{"d":83.4,"s":126},
      {"d":85.5,"s":127.5},{"d":85.5,"s":126.5},{"d":85.5,"s":125.5},{"d":85.5,"s":124.5},
      {"d":87,"s":124.4},{"d":87,"s":123.4},{"d":87,"s":120.9},{"d":87,"s":118.6},{"d":88.1,"s":127.5},
      {"d":90.2,"s":128.8},{"d":90.2,"s":128},{"d":91.9,"s":129},{"d":91.9,"s":128},
      {"d":94.6,"s":130},{"d":94.6,"s":128.8},{"d":94.6,"s":127.6},{"d":94.6,"s":124.8},{"d":94.6,"s":123},{"d":94.6,"s":120.8},{"d":94.6,"s":118.3},
      {"d":99.6,"s":128},{"d":99.6,"s":127.2},{"d":102.5,"s":126},{"d":102.5,"s":125.2},
      {"d":105.4,"s":126.5},{"d":105.4,"s":125.5},{"d":105.4,"s":124.5},{"d":105.4,"s":123.5},{"d":105.4,"s":122.5},{"d":105.4,"s":121.3},{"d":105.4,"s":120.3},
      {"d":107.8,"s":123.9},{"d":108.4,"s":119.8},{"d":107.2,"s":121.3},{"d":109.8,"s":125},{"d":109.8,"s":124.2},{"d":111.3,"s":125.6},{"d":111.3,"s":124.8},{"d":113.6,"s":125.8},{"d":113.6,"s":124.6},{"d":114.8,"s":125.5},{"d":114.8,"s":124.3},
      {"d":78.5,"s":146.4},{"d":108.6,"s":146.7},{"d":110.1,"s":138}
    ],
    "pause": [
      {"d":26.9,"s":135.4},{"d":26.9,"s":134.9},{"d":26.9,"s":134.3},{"d":26.9,"s":133.8},{"d":26.9,"s":133.2},{"d":26.9,"s":132.7},{"d":26.9,"s":132.1},{"d":26.9,"s":131.6},{"d":26.9,"s":131},{"d":26.9,"s":130.5},{"d":26.9,"s":129.9},{"d":26.9,"s":129.4},{"d":26.9,"s":128.8},{"d":26.9,"s":128.3},{"d":26.9,"s":127.7},{"d":26.9,"s":127.2},{"d":26.9,"s":126.6},{"d":26.9,"s":126.1},{"d":26.9,"s":125.5},{"d":26.9,"s":125},{"d":26.9,"s":124.4},{"d":26.9,"s":123.9},{"d":26.9,"s":123.3},{"d":26.9,"s":122.8},{"d":26.9,"s":122.3},
      {"d":27.3,"s":134.6},{"d":27.3,"s":132.4},{"d":27.3,"s":130.2},{"d":27.3,"s":128},{"d":27.3,"s":125.8},{"d":27.3,"s":123.6},
      {"d":29.5,"s":127},
      {"d":32.4,"s":126.9},{"d":32.4,"s":126.3},{"d":32.4,"s":125.7},{"d":32.4,"s":125},{"d":32.4,"s":124.3},{"d":32.4,"s":123.6},{"d":32.4,"s":122.9},
      {"d":35.4,"s":125},{"d":35.4,"s":124.3},
      {"d":36.9,"s":129.2},{"d":36.9,"s":128.6},{"d":36.9,"s":128},{"d":36.9,"s":127.4},
      {"d":37.7,"s":125.2},{"d":37.7,"s":124.5},{"d":37.7,"s":123.8},{"d":37.7,"s":123.1},{"d":37.7,"s":122.4},{"d":37.7,"s":121.7},{"d":37.7,"s":121.1},
      {"d":42.1,"s":127.8},{"d":42.1,"s":127.2},{"d":42.1,"s":126.6},{"d":42.1,"s":126},{"d":42.1,"s":125.3},{"d":42.1,"s":124.7},{"d":42.1,"s":124},{"d":42.1,"s":123.4},
      {"d":47.1,"s":123},{"d":49.4,"s":125.5},{"d":49.4,"s":124.8},
      {"d":51.5,"s":124.4},{"d":51.5,"s":123.7},{"d":51.5,"s":123},{"d":51.5,"s":122.2},
      {"d":53.9,"s":125.7},{"d":53.9,"s":125},{"d":53.9,"s":124.3},{"d":53.9,"s":123.6},{"d":53.9,"s":122.9},{"d":53.9,"s":122.1},
      {"d":55.3,"s":127.8},{"d":55.3,"s":127.2},{"d":55.3,"s":126.6},{"d":55.3,"s":126},{"d":55.3,"s":125.4},{"d":55.3,"s":124.8},{"d":55.3,"s":124.2},{"d":55.3,"s":123.6},{"d":55.3,"s":123},{"d":55.3,"s":122.4},{"d":55.3,"s":121.8},{"d":55.3,"s":121.2},{"d":55.3,"s":120.6},{"d":55.3,"s":120.1},
      {"d":55.7,"s":127.5},{"d":55.7,"s":126.3},{"d":55.7,"s":125.1},{"d":55.7,"s":123.9},{"d":55.7,"s":122.7},{"d":55.7,"s":121.5},
      {"d":52.8,"s":147.6},{"d":55.3,"s":131.4},{"d":56,"s":140.2},
      {"d":60.9,"s":125.2},{"d":60.9,"s":124.5},{"d":60.9,"s":123.8},{"d":60.9,"s":123.1},{"d":60.9,"s":122.4},{"d":60.9,"s":121.7},{"d":60.9,"s":121},
      {"d":62.1,"s":127.8},{"d":62.1,"s":126.4},{"d":62.1,"s":123.2},{"d":62.1,"s":122.4},{"d":62.1,"s":121.6},{"d":62.1,"s":120.8},
      {"d":64.7,"s":127.3},{"d":64.7,"s":126.7},{"d":64.7,"s":126.2},
      {"d":67.2,"s":134.4},{"d":67.2,"s":133.7},{"d":67.2,"s":133.2},{"d":67.2,"s":127.8},{"d":67.2,"s":127.1},{"d":67.2,"s":126.4},{"d":67.2,"s":125.7},{"d":67.2,"s":125},{"d":67.2,"s":124.3},{"d":67.2,"s":123.6},{"d":67.2,"s":122.9},{"d":67.2,"s":122.2},
      {"d":72.9,"s":126.8},{"d":72.9,"s":126.1},{"d":72.9,"s":125.4},{"d":72.9,"s":124.7},{"d":72.9,"s":124},{"d":72.9,"s":123.4},
      {"d":77.3,"s":130.6},{"d":77.3,"s":129.9},{"d":77.3,"s":129},{"d":77.3,"s":127.5},{"d":77.3,"s":126.8},{"d":77.3,"s":126.1},{"d":77.3,"s":125.4},{"d":77.3,"s":124.7},{"d":77.3,"s":124},{"d":77.3,"s":123.3},{"d":77.3,"s":122.6},{"d":77.3,"s":121.9},{"d":77.3,"s":121.2},{"d":77.3,"s":120.5},{"d":77.3,"s":119.8},{"d":77.3,"s":119.1},{"d":77.3,"s":118.4},{"d":77.3,"s":117.8},
      {"d":76.7,"s":124.8},{"d":76.7,"s":123.5},{"d":76.7,"s":122.1},{"d":76.7,"s":120.7},{"d":76.7,"s":119.4},
      {"d":78.8,"s":127.9},{"d":78.8,"s":127.2},{"d":78.8,"s":126.5},{"d":78.8,"s":125.8},{"d":78.8,"s":125.1},{"d":78.8,"s":124.4},{"d":78.8,"s":123.7},{"d":78.8,"s":123},{"d":78.8,"s":122.3},{"d":78.8,"s":121.6},{"d":78.8,"s":120.9},{"d":78.8,"s":120.2},{"d":78.8,"s":119.5},{"d":78.8,"s":118.8},{"d":78.8,"s":118.1},{"d":78.8,"s":117.3},
      {"d":78.2,"s":125.5},{"d":78.2,"s":123},{"d":78.2,"s":120.5},{"d":78.2,"s":118},
      {"d":79.9,"s":128.2},{"d":79.9,"s":127.5},{"d":79.9,"s":126.8},{"d":79.9,"s":126.1},{"d":79.9,"s":125.4},{"d":79.9,"s":124.7},{"d":79.9,"s":124},{"d":79.9,"s":123.3},{"d":79.9,"s":122.6},{"d":79.9,"s":121.9},{"d":79.9,"s":121.2},{"d":79.9,"s":120.5},{"d":79.9,"s":119.8},
      {"d":86.1,"s":123.9},{"d":86.1,"s":123.3},
      {"d":88.1,"s":126.1},{"d":88.1,"s":125.4},{"d":88.1,"s":124.7},{"d":88.1,"s":124},{"d":88.1,"s":123.3},{"d":88.1,"s":122.6},{"d":88.1,"s":121.9},{"d":88.1,"s":121.2},{"d":88.1,"s":120.5},{"d":88.1,"s":119.8},{"d":88.1,"s":119.1},
      {"d":92.4,"s":127.8},{"d":92.4,"s":127.1},{"d":92.4,"s":126.4},{"d":92.4,"s":125.7},{"d":92.4,"s":125},
      {"d":94.7,"s":135},{"d":94.7,"s":133.1},{"d":94.7,"s":132.5},{"d":94.7,"s":131.8},{"d":94.7,"s":128.5},{"d":94.7,"s":127.7},{"d":94.7,"s":126.9},{"d":94.7,"s":126.2},{"d":94.7,"s":124.4},{"d":94.7,"s":123.6},{"d":94.7,"s":122.8},{"d":94.7,"s":122},{"d":94.7,"s":121.3},{"d":94.7,"s":119.6},
      {"d":96.6,"s":131.4},{"d":96.6,"s":130.7},{"d":96.6,"s":130},{"d":96.6,"s":129.3},{"d":96.6,"s":128.6},{"d":96.6,"s":127.9},{"d":96.6,"s":127.2},{"d":96.6,"s":126.5},{"d":96.6,"s":125.8},{"d":96.6,"s":125.1},{"d":96.6,"s":124.4},{"d":96.6,"s":123.7},
      {"d":97.2,"s":130.2},{"d":97.2,"s":128.4},{"d":97.2,"s":126.6},{"d":97.2,"s":124.8},
      {"d":95.8,"s":140.6},{"d":108.3,"s":137.1},{"d":117.7,"s":139.1},
      {"d":105.4,"s":134.1},{"d":105.4,"s":133.4},{"d":105.4,"s":132.7},{"d":105.4,"s":132},{"d":105.4,"s":131.3},{"d":105.4,"s":130.6},{"d":105.4,"s":129.9},{"d":105.4,"s":129.2},{"d":105.4,"s":128.5},{"d":105.4,"s":127.8},
      {"d":108.1,"s":128.3},{"d":108.1,"s":127.6},{"d":108.1,"s":126.9},{"d":108.1,"s":126.2},{"d":108.1,"s":125.5},{"d":108.1,"s":124.8},{"d":108.1,"s":121.2},{"d":108.1,"s":119.3},
      {"d":111.6,"s":133.6},{"d":111.6,"s":133},{"d":111.6,"s":132.4},{"d":111.6,"s":131.8},{"d":111.6,"s":131.2},{"d":111.6,"s":130.6},
      {"d":113,"s":128.2},{"d":113,"s":127.5},{"d":113,"s":126.8},{"d":113,"s":126.1},{"d":113,"s":125.4},{"d":113,"s":124.7},{"d":113,"s":124},{"d":113,"s":123.3},{"d":113,"s":122.6},{"d":113,"s":121.9},
      {"d":114.5,"s":133.1},{"d":114.5,"s":132.4},{"d":114.5,"s":131.7},{"d":114.5,"s":131},{"d":114.5,"s":130.3},{"d":114.5,"s":129.6},{"d":114.5,"s":128.9},{"d":114.5,"s":128.2},{"d":114.5,"s":127.5},{"d":114.5,"s":126.8},{"d":114.5,"s":126.1},{"d":114.5,"s":125.4},{"d":114.5,"s":124.7},{"d":114.5,"s":124},{"d":114.5,"s":123.3},
      {"d":116,"s":131.5},{"d":116,"s":130.3},{"d":116,"s":129.1},{"d":116,"s":127.9},{"d":116,"s":126.7},{"d":116,"s":125.5},{"d":116,"s":124.3},{"d":116,"s":123.1},{"d":116,"s":121.9},{"d":116,"s":120.7},{"d":116,"s":119.5},
      {"d":116.5,"s":132.2},{"d":116.5,"s":131},{"d":116.5,"s":129.8},{"d":116.5,"s":128.6},{"d":116.5,"s":127.4},{"d":116.5,"s":126.2},{"d":116.5,"s":125},{"d":116.5,"s":123.8},{"d":116.5,"s":122.6},{"d":116.5,"s":121.4},{"d":116.5,"s":120.2},{"d":116.5,"s":119},
      {"d":117,"s":133},{"d":117,"s":131.8},{"d":117,"s":130.6},{"d":117,"s":129.4},{"d":117,"s":128.2},{"d":117,"s":127},{"d":117,"s":125.8},{"d":117,"s":124.6},{"d":117,"s":123.4},{"d":117,"s":122.2},{"d":117,"s":121},{"d":117,"s":119.8},{"d":117,"s":118.6},
      {"d":117.5,"s":133.6},{"d":117.5,"s":132.4},{"d":117.5,"s":131.2},{"d":117.5,"s":130},{"d":117.5,"s":128.8},{"d":117.5,"s":127.6},{"d":117.5,"s":126.4},{"d":117.5,"s":125.2},{"d":117.5,"s":124},{"d":117.5,"s":122.8},{"d":117.5,"s":121.6},{"d":117.5,"s":120.4},{"d":117.5,"s":119.2},{"d":117.5,"s":118},
      {"d":118,"s":132.8},{"d":118,"s":131.6},{"d":118,"s":130.4},{"d":118,"s":129.2},{"d":118,"s":128},{"d":118,"s":126.8},{"d":118,"s":125.6},{"d":118,"s":124.4},{"d":118,"s":123.2},{"d":118,"s":122},{"d":118,"s":120.8},{"d":118,"s":119.6},{"d":118,"s":118.4},
      {"d":118.5,"s":133.2},{"d":118.5,"s":132},{"d":118.5,"s":130.8},{"d":118.5,"s":129.6},{"d":118.5,"s":128.4},{"d":118.5,"s":127.2},{"d":118.5,"s":126},{"d":118.5,"s":124.8},{"d":118.5,"s":123.6},{"d":118.5,"s":122.4},{"d":118.5,"s":121.2},{"d":118.5,"s":120},{"d":118.5,"s":118.8},{"d":118.5,"s":117.6},
      {"d":119,"s":131},{"d":119,"s":129.8},{"d":119,"s":128.6},{"d":119,"s":127.4},{"d":119,"s":126.2},{"d":119,"s":125},{"d":119,"s":123.8},{"d":119,"s":122.6},{"d":119,"s":121.4},{"d":119,"s":120.2},{"d":119,"s":119},{"d":119,"s":117.8},
      {"d":119.5,"s":130.2},{"d":119.5,"s":129},{"d":119.5,"s":127.8},{"d":119.5,"s":126.6},{"d":119.5,"s":125.4},{"d":119.5,"s":124.2},{"d":119.5,"s":123},{"d":119.5,"s":121.8},{"d":119.5,"s":120.6},{"d":119.5,"s":119.4},{"d":119.5,"s":118.2},
      {"d":120,"s":129.6},{"d":120,"s":128.4},{"d":120,"s":127.2},{"d":120,"s":126},{"d":120,"s":124.8},{"d":120,"s":123.6},{"d":120,"s":122.4},{"d":120,"s":121.2},{"d":120,"s":120},{"d":120,"s":118.8},
      {"d":120.5,"s":128.8},{"d":120.5,"s":127.6},{"d":120.5,"s":126.4},{"d":120.5,"s":125.2},{"d":120.5,"s":124},{"d":120.5,"s":122.8},{"d":120.5,"s":121.6},{"d":120.5,"s":120.4},{"d":120.5,"s":119.2},{"d":120.5,"s":118}
    ],
    "noise": [
      {"d":19.5,"s":151.8},{"d":20.5,"s":150},{"d":23.7,"s":152.8},{"d":20.5,"s":147.5},{"d":24,"s":148.9},
      {"d":23.7,"s":154},{"d":23.9,"s":151},{"d":24.9,"s":152.3},{"d":25.7,"s":153.1},{"d":27.2,"s":153.1},{"d":27.8,"s":153.1},{"d":26.9,"s":151},{"d":27.2,"s":150.5},{"d":25.7,"s":150.5},{"d":23.9,"s":148.4},{"d":28.8,"s":152.7},{"d":30.1,"s":153.2},{"d":32.8,"s":152.6},{"d":32.2,"s":150.8},{"d":32.5,"s":152.1},{"d":35.5,"s":151.8},{"d":36.5,"s":153.1},{"d":34.2,"s":148.5},{"d":34.7,"s":147.7},{"d":35.3,"s":144.9},{"d":37.4,"s":143.1},{"d":40.5,"s":150.6},{"d":41.5,"s":144.5},{"d":42,"s":143.1},{"d":45.1,"s":150.5},{"d":47.1,"s":152.3},{"d":47.1,"s":150.8},{"d":46.1,"s":146.9},{"d":48.4,"s":147.6},{"d":45,"s":143.8},{"d":47.2,"s":142.9},{"d":50.5,"s":152.3},{"d":50.7,"s":150.8},{"d":53,"s":152.7},{"d":53.9,"s":152.2},{"d":55.6,"s":152.2},{"d":56.1,"s":152.6},{"d":57,"s":152.1},{"d":58.5,"s":150.8},{"d":58.2,"s":154},{"d":53.5,"s":150.5},{"d":55.3,"s":148},{"d":54.5,"s":145.7},{"d":55.5,"s":145.7},{"d":53.7,"s":144.5},{"d":61.5,"s":151.3},{"d":61.6,"s":150.3},{"d":62.6,"s":148.8},{"d":64.7,"s":153.6},{"d":66.1,"s":154},{"d":66.3,"s":152.6},{"d":64.7,"s":151.7},{"d":64.7,"s":149.4},{"d":66.2,"s":148},{"d":67.2,"s":156.6},{"d":70.5,"s":149.4},{"d":58.2,"s":143.6},{"d":60.8,"s":143.9},{"d":61.7,"s":141.8},{"d":60,"s":141.1},{"d":60.6,"s":139},{"d":66.2,"s":141.3},{"d":67.1,"s":140},
      {"d":42.4,"s":136.5},{"d":43,"s":134.2},{"d":46.8,"s":136.7},{"d":42.1,"s":134.7},{"d":40.5,"s":134.7},{"d":48.2,"s":133.7},{"d":48.5,"s":132.1},{"d":50.3,"s":134.6},{"d":50.3,"s":133.5},{"d":52.1,"s":132.1},{"d":52.7,"s":133.4},{"d":55.3,"s":136.2},{"d":56.1,"s":134.2},{"d":56.7,"s":132.1},{"d":57.3,"s":129.3},{"d":58.5,"s":129.1},{"d":60.3,"s":129.1},{"d":61.5,"s":129.6},{"d":61.7,"s":128.5},{"d":63.5,"s":128.5},{"d":63.3,"s":131.1},{"d":64.7,"s":128.8},{"d":66.4,"s":129.3},{"d":68.4,"s":130.1},{"d":69.3,"s":129.1},{"d":69.9,"s":129.1},{"d":69,"s":130.6},{"d":45.1,"s":129.1},{"d":49.6,"s":127.1},{"d":52.1,"s":126},{"d":53.9,"s":126.2},{"d":57.2,"s":125.2},{"d":58.5,"s":126.6},{"d":55.3,"s":117.8},{"d":32.2,"s":133.7},{"d":32.2,"s":131.9},{"d":34.7,"s":136.5},{"d":26.9,"s":136.7},{"d":26.9,"s":138.3},{"d":37.4,"s":138.5},{"d":47.2,"s":140.8},
      {"d":71.1,"s":151.5},{"d":71.7,"s":155.3},{"d":72.4,"s":155.4},{"d":73,"s":155.9},{"d":73,"s":153.1},{"d":73.2,"s":152.2},{"d":73.8,"s":150.9},{"d":74.4,"s":146.3},{"d":72.4,"s":140.9},{"d":75.4,"s":150.4},{"d":76.1,"s":152.1},{"d":76.8,"s":151.7},{"d":77,"s":154.9},{"d":78.4,"s":155.1},{"d":78.4,"s":154.4},{"d":78.6,"s":153.9},{"d":78.8,"s":152.3},{"d":79.9,"s":152.2},{"d":78.6,"s":151.3},{"d":78.8,"s":149.9},{"d":76.6,"s":146.9},{"d":77,"s":145.3},{"d":77.7,"s":147.5},{"d":78,"s":146.3},{"d":78.7,"s":143.1},{"d":77.9,"s":142.1},{"d":79.9,"s":141.3},{"d":79.9,"s":139.5},{"d":77.9,"s":140.6},{"d":78,"s":139.3},{"d":78.8,"s":140.6},{"d":77.9,"s":137.7},{"d":78.8,"s":136.5},{"d":78.7,"s":138.5},
      {"d":83.4,"s":152.7},{"d":85.2,"s":152.3},{"d":84.9,"s":150.8},{"d":87,"s":156.7},{"d":85.7,"s":148.5},{"d":87.3,"s":149.4},{"d":86.8,"s":147.2},{"d":83.5,"s":145.8},{"d":89.3,"s":150},{"d":89.1,"s":149.3},{"d":91.9,"s":156.5},{"d":93.5,"s":150.3},{"d":94.7,"s":152.7},{"d":96.5,"s":157.6},{"d":96.6,"s":153.6},{"d":97.2,"s":154.2},{"d":96.6,"s":152.3},{"d":98.1,"s":152.1},{"d":96.7,"s":151},{"d":95.4,"s":148.2},{"d":96.6,"s":148.2},{"d":98.1,"s":148},{"d":99.3,"s":155.9},{"d":100.8,"s":152},{"d":100.8,"s":150},{"d":102.2,"s":156.5},{"d":102.2,"s":153.9},{"d":103.7,"s":151.4},{"d":102.7,"s":146.2},{"d":105.4,"s":154.4},{"d":105.4,"s":150.6},{"d":105.8,"s":148.1},{"d":107,"s":149.7},{"d":107.4,"s":156.2},{"d":108.4,"s":149.9},{"d":108,"s":147.1},{"d":110.9,"s":148.4},{"d":109.9,"s":153.9},{"d":109.9,"s":145.4},{"d":111.9,"s":153.9},{"d":111.6,"s":143.4},{"d":114.4,"s":148.9},{"d":115.9,"s":154.6},{"d":116.1,"s":153.8},{"d":117.6,"s":157.2},{"d":117.7,"s":155.8},{"d":116.5,"s":152.7},{"d":116.3,"s":151.6},{"d":118.9,"s":152.9},{"d":119,"s":150.1},{"d":120.5,"s":155},{"d":120.5,"s":148.4},{"d":120.5,"s":147.8},{"d":116.4,"s":146},{"d":118.4,"s":145.8},{"d":117.4,"s":144.6},{"d":117.7,"s":144.1},{"d":118.4,"s":143.6},{"d":118.6,"s":142.9},{"d":116.2,"s":142.2},{"d":117.4,"s":142.2},{"d":117.6,"s":141.3},{"d":118.9,"s":141.7},{"d":117.4,"s":138.1},{"d":118,"s":137.4},{"d":116.2,"s":136.9},{"d":105.4,"s":140.8},{"d":105.4,"s":139.3},{"d":105.4,"s":138.6},{"d":106.3,"s":139.6},{"d":107.6,"s":138.6},{"d":108.3,"s":137.5},{"d":111.6,"s":138.7},{"d":95.3,"s":143.8},{"d":98.1,"s":143.8},{"d":97.2,"s":141.1},{"d":94.7,"s":141.3},{"d":92.5,"s":141.7},{"d":88.4,"s":140},{"d":85.2,"s":139.1},{"d":92.4,"s":137.2},{"d":91.5,"s":135.8},{"d":105.7,"s":140.9},
      {"d":69.4,"s":129},{"d":71.7,"s":129.3},{"d":72,"s":128.5},{"d":72.3,"s":128.1},{"d":71.7,"s":125.6},{"d":73,"s":121.5},{"d":75.1,"s":125.6},{"d":75.1,"s":124},{"d":77.5,"s":125},{"d":77.9,"s":115.7},{"d":77.9,"s":114.3},{"d":79.9,"s":130.8},{"d":81.3,"s":124.7},{"d":81.3,"s":121.9},{"d":82.8,"s":125.9},{"d":83.7,"s":123},{"d":85.2,"s":121},{"d":85.5,"s":125},{"d":87,"s":117.6},{"d":88.4,"s":117.4},{"d":87.5,"s":125.2},{"d":90.7,"s":126.2},{"d":90.7,"s":123.4},{"d":91.5,"s":128.9},{"d":91.6,"s":132.6},{"d":94.7,"s":125.1},{"d":99.2,"s":124.8},{"d":99.6,"s":121.2},{"d":98.7,"s":118.9},{"d":98.7,"s":118.2},{"d":101.9,"s":128.6},{"d":105.4,"s":122.4},{"d":105.6,"s":121.2},{"d":105.9,"s":120.8},{"d":106.3,"s":121.8},{"d":107,"s":119},{"d":107.3,"s":123.8},{"d":109.7,"s":122.7},{"d":109.7,"s":121.4},{"d":109.7,"s":120.4},{"d":111.7,"s":122.4},{"d":112.8,"s":125.1},{"d":114.6,"s":123.4},{"d":114.4,"s":119.7},{"d":116.4,"s":120.8},{"d":116.4,"s":118.8},{"d":116.5,"s":116.9},{"d":117.7,"s":116.7},{"d":118.4,"s":119.6},{"d":119.3,"s":119.8},{"d":120.5,"s":117},{"d":119.8,"s":126.7},{"d":119.5,"s":125},{"d":116.5,"s":123.9},{"d":116.9,"s":123},{"d":118.4,"s":118.6},{"d":85.2,"s":123.4}
    ],
    "smooth": [
      {"g":1,"d":5.2,"s":158.8},{"g":1,"d":7.5,"s":157.4},{"g":1,"d":10,"s":156},{"g":1,"d":12.5,"s":155.1},{"g":1,"d":15.1,"s":154.3},
      {"g":2,"d":20.2,"s":148.6},{"g":2,"d":24.6,"s":147.2},{"g":2,"d":29.8,"s":145.3},{"g":2,"d":32.8,"s":143.6},{"g":2,"d":36.3,"s":141.8},{"g":2,"d":39.8,"s":140.3},{"g":2,"d":43.3,"s":139.4},{"g":2,"d":46.8,"s":138.6},{"g":2,"d":50.4,"s":138.2},{"g":2,"d":55,"s":137.6},{"g":2,"d":59.7,"s":136.6},{"g":2,"d":65.6,"s":135.4},{"g":2,"d":69.7,"s":135.1},{"g":2,"d":74.9,"s":132.9},{"g":2,"d":79.6,"s":132.1},{"g":2,"d":84.9,"s":131.1},{"g":2,"d":90.2,"s":132.6},{"g":2,"d":94.6,"s":133.4},{"g":2,"d":99.5,"s":131.9},{"g":2,"d":104.8,"s":128.3},{"g":2,"d":108.9,"s":128.6},{"g":2,"d":114.8,"s":129.6},{"g":2,"d":119.5,"s":132}
    ],
    "cutoff": [{"d": 17}]
  },
  "layer": [
    {
      "data": {"name": "minorx"},
      "mark": {"type": "rule", "color": "#EBEBEB", "strokeWidth": 0.6},
      "encoding": {"x": {"field": "d", "type": "quantitative"}}
    },
    {
      "data": {"name": "minory"},
      "mark": {"type": "rule", "color": "#EBEBEB", "strokeWidth": 0.6},
      "encoding": {"y": {"field": "s", "type": "quantitative"}}
    },
    {
      "data": {"name": "seismic"},
      "mark": {"type": "circle", "size": 28, "opacity": 1},
      "encoding": {
        "x": {
          "field": "d", "type": "quantitative", "title": "distance to source (km)",
          "scale": {"domain": [-2.7, 127], "nice": false, "zero": false},
          "axis": {
            "values": [0, 25, 50, 75, 100, 125],
            "domain": false, "grid": true, "gridColor": "#EBEBEB", "gridWidth": 1.2,
            "tickColor": "#333333", "tickSize": 5, "tickWidth": 1,
            "labelFontSize": 15, "labelColor": "#4D4D4D", "labelPadding": 4, "labelFlush": false,
            "titleFontSize": 15, "titleFontWeight": "normal", "titleColor": "#000000", "titlePadding": 4
          }
        },
        "y": {
          "field": "s", "type": "quantitative", "title": "SEL dB (re 1μPa² · s)",
          "scale": {"domain": [111.6, 169.8], "nice": false, "zero": false},
          "axis": {
            "values": [120, 130, 140, 150, 160],
            "domain": false, "grid": true, "gridColor": "#EBEBEB", "gridWidth": 1.2,
            "tickColor": "#333333", "tickSize": 5, "tickWidth": 1,
            "labelFontSize": 15, "labelColor": "#4D4D4D", "labelPadding": 5.5,
            "titleFontSize": 15, "titleFontWeight": "normal", "titleColor": "#000000", "titlePadding": 4,
            "titleY": 198
          }
        },
        "color": {
          "datum": "seismic",
          "scale": {"domain": ["pause", "seismic", "self noise"], "range": ["#0000EE", "#A9A9A9", "#FF69B4"]},
          "legend": {
            "title": null, "orient": "none", "legendX": 780, "legendY": 162,
            "symbolType": "circle", "symbolSize": 95, "symbolOpacity": 1, "symbolStrokeWidth": 0,
            "labelFontSize": 15, "labelColor": "#000000", "labelOffset": 22, "rowPadding": 19
          }
        }
      }
    },
    {
      "data": {"name": "pause"},
      "mark": {"type": "circle", "size": 28, "opacity": 1},
      "encoding": {
        "x": {"field": "d", "type": "quantitative"},
        "y": {"field": "s", "type": "quantitative"},
        "color": {"datum": "pause"}
      }
    },
    {
      "data": {"name": "noise"},
      "mark": {"type": "circle", "size": 28, "opacity": 1},
      "encoding": {
        "x": {"field": "d", "type": "quantitative"},
        "y": {"field": "s", "type": "quantitative"},
        "color": {"datum": "self noise"}
      }
    },
    {
      "data": {"name": "smooth"},
      "mark": {"type": "line", "color": "#000000", "strokeWidth": 2.2, "interpolate": "monotone"},
      "encoding": {
        "x": {"field": "d", "type": "quantitative"},
        "y": {"field": "s", "type": "quantitative"},
        "detail": {"field": "g", "type": "nominal"}
      }
    },
    {
      "data": {"name": "cutoff"},
      "mark": {"type": "rule", "color": "#000000", "strokeWidth": 1.4, "strokeDash": [8, 4]},
      "encoding": {
        "x": {"field": "d", "type": "quantitative"}
      }
    }
  ]
}
